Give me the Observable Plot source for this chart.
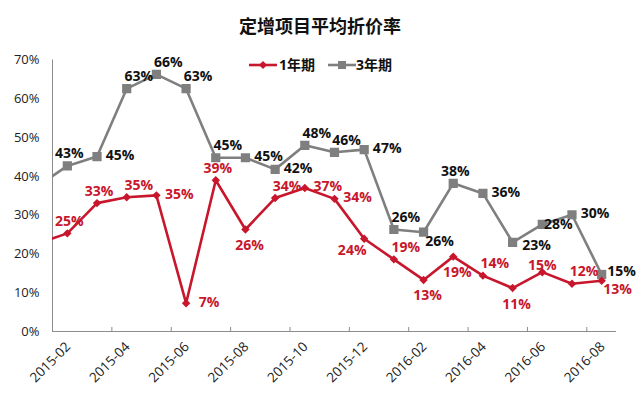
<!DOCTYPE html>
<html>
<head>
<meta charset="utf-8">
<script src="https://cdn.jsdelivr.net/npm/d3@7"></script>
<script src="https://cdn.jsdelivr.net/npm/@observablehq/plot@0.6"></script>
<style>
  body { margin: 0; background: #fff; font-family: "Open Sans", "Noto Sans CJK SC", sans-serif; }
  #wrap { position: relative; width: 640px; height: 417px; overflow: hidden; }
  #title { height: 45px; box-sizing: border-box; padding-top: 14px; line-height: 22px; text-align: center;
           font-family: "Noto Sans CJK SC", sans-serif; font-weight: bold; font-size: 18px; color: #111; }
  .leg { position: absolute; top: 56px; height: 18px; line-height: 18px; font-weight: bold; font-size: 14px; color: #111;
         font-family: "Open Sans", "Noto Sans CJK SC", sans-serif; }
  .sw { position: absolute; top: 57px; }
</style>
</head>
<body>
<div id="wrap">
  <div id="title">定增项目平均折价率</div>
  <div id="chart"></div>
  <div id="legend"></div>
</div>
<script>
// ---- data ----
const months = ["2015-01","2015-02","2015-03","2015-04","2015-05","2015-06","2015-07","2015-08","2015-09","2015-10",
                "2015-11","2015-12","2016-01","2016-02","2016-03","2016-04","2016-05","2016-06","2016-07","2016-08"];
const oneYear   = [22.7, 25.3, 33.1, 34.6, 35.1, 7.3, 39.0, 26.3, 34.4, 37.0, 34.2, 23.9, 18.6, 13.3, 19.3, 14.4, 11.2, 15.3, 12.3, 13.1];
const threeYear = [37.5, 42.7, 45.1, 62.6, 66.3, 62.6, 44.8, 44.8, 41.8, 48.0, 46.2, 46.9, 26.3, 25.6, 38.2, 35.6, 23.0, 27.6, 30.1, 14.7];
const seriesNames = ["1年期", "3年期"];
const xTickLabels = ["2015-02","2015-04","2015-06","2015-08","2015-10","2015-12","2016-02","2016-04","2016-06","2016-08"];
const yTicks = [0, 10, 20, 30, 40, 50, 60, 70];
// data-label placement (style), one per point
const oneYearLabelPos   = ["none","above","above","tr","right","right","above","below","tr","right","right","bl","tr","below","below","tr","below","aboveLow","tr","br"];
const threeYearLabelPos = ["none","above","right","tr","tr","tr","tr","right","right","tr","tr","right","tr","br","above","right","rightDown","rightLow","right","rightUp"];

// ---- styles ----
const RED = "#C8162C", GRAY = "#7F7F7F", AXIS = "#8C8C8C";
const offsets = {above: [2, -12], aboveLow: [0, -7], below: [4, 16], right: [23, -1], rightUp: [20, -3], rightDown: [24, 3], rightLow: [16, 0],
                 tr: [12, -12], br: [16, 9], bl: [-12, 12]};

const mIndex = s => { const [y, m] = s.split("-").map(Number); return (y - 2015) * 12 + (m - 2); };
const idx = d3.range(months.length);
const xi = months.map(mIndex);

function labelMarks(vals, pos, color) {
  return Object.entries(offsets).map(([code, [dx, dy]]) =>
    Plot.text(idx.filter(i => pos[i] === code), {
      x: i => xi[i], y: i => vals[i], text: i => Math.round(vals[i]) + "%",
      dx, dy, fill: color, fontSize: 14, fontWeight: "bold", textAnchor: "middle"
    }));
}

const xTickPos = d3.range(-0.5, 18, 2);

const chart = Plot.plot({
  width: 640, height: 372,
  marginTop: 14.5, marginBottom: 86, marginLeft: 52, marginRight: 24,
  style: {fontFamily: "'Open Sans', 'Noto Sans CJK SC', sans-serif", background: "transparent"},
  x: {type: "linear", domain: [-0.5, 18.5], axis: null},
  y: {domain: [0, 70], axis: null},
  marks: [
    Plot.ruleY([0], {stroke: AXIS, strokeWidth: 1}),
    Plot.ruleX([-0.5], {stroke: AXIS, strokeWidth: 1}),
    Plot.ruleX(xTickPos, {y1: 0, y2: 0, insetBottom: 4, stroke: AXIS}),
    Plot.text(yTicks, {frameAnchor: "left", y: d => d, text: d => d + "%", textAnchor: "end", dx: -13, fontSize: 13, fill: "#222"}),
    Plot.text(xTickLabels, {x: mIndex, frameAnchor: "bottom", text: d => d, rotate: -45, textAnchor: "end", dx: 4, dy: 16, fontSize: 13.5, fill: "#222"}),
    Plot.line(idx, {x: i => xi[i], y: i => threeYear[i], stroke: GRAY, strokeWidth: 2.6, clip: true}),
    Plot.dot(idx, {x: i => xi[i], y: i => threeYear[i], symbol: "square", r: 5.2, fill: GRAY, clip: true}),
    Plot.line(idx, {x: i => xi[i], y: i => oneYear[i], stroke: RED, strokeWidth: 2.6, clip: true}),
    Plot.dot(idx, {x: i => xi[i], y: i => oneYear[i], symbol: "diamond2", r: 3.8, fill: RED, clip: true}),
    ...labelMarks(threeYear, threeYearLabelPos, "#111"),
    ...labelMarks(oneYear, oneYearLabelPos, RED)
  ]
});
document.getElementById("chart").appendChild(chart);

// legend
const legend = document.getElementById("legend");
const items = [
  {name: seriesNames[0], color: RED, sym: "diamond", sx: 248, tx: 279},
  {name: seriesNames[1], color: GRAY, sym: "square", sx: 327, tx: 356}
];
for (const it of items) {
  const sw = document.createElementNS("http://www.w3.org/2000/svg", "svg");
  sw.setAttribute("width", 30); sw.setAttribute("height", 16);
  sw.setAttribute("class", "sw"); sw.style.left = it.sx + "px";
  const marker = it.sym === "diamond"
    ? `<path d="M15,4 L19,8 L15,12 L11,8 Z" fill="${it.color}"/>`
    : `<rect x="11" y="4" width="8" height="8" fill="${it.color}"/>`;
  sw.innerHTML = `<line x1="1" y1="8" x2="29" y2="8" stroke="${it.color}" stroke-width="2.6"/>` + marker;
  legend.appendChild(sw);
  const t = document.createElement("div");
  t.className = "leg"; t.style.left = it.tx + "px"; t.textContent = it.name;
  legend.appendChild(t);
}
</script>
</body>
</html>
